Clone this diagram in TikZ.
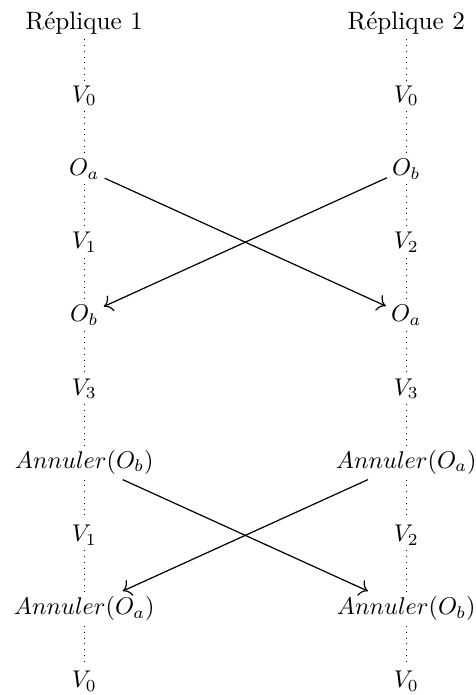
\documentclass[tikz,border=0pt]{standalone}
\usetikzlibrary{arrows.meta}
\begin{document}
\begin{tikzpicture}[x=0.4132pt,y=-0.4132pt,
  lab/.style={anchor=base,inner sep=2pt,font=\fontsize{10.4}{12.5}\selectfont},
  sep/.style={dotted,line width=0.4pt},
  msg/.style={-{To[scale=1.25]},line width=0.5pt}]
\useasboundingbox (0,0) rectangle (476,695);
% left column
\node[lab] (l0) at (84.3,29)    {Réplique 1};
\node[lab] (l1) at (84.3,102.2) {$V_0$};
\node[lab] (l2) at (84.3,175.4) {$O_a$};
\node[lab] (l3) at (84.3,248.6) {$V_1$};
\node[lab] (l4) at (84.3,321.8) {$O_b$};
\node[lab] (l5) at (84.3,395)   {$V_3$};
\node[lab] (l6) at (84.3,468.2) {$Annuler(O_b)$};
\node[lab] (l7) at (84.3,541.4) {$V_1$};
\node[lab] (l8) at (84.3,614.6) {$Annuler(O_a)$};
\node[lab] (l9) at (84.3,687.8) {$V_0$};
% right column
\node[lab] (r0) at (406.3,29)    {Réplique 2};
\node[lab] (r1) at (406.3,102.2) {$V_0$};
\node[lab] (r2) at (406.3,175.4) {$O_b$};
\node[lab] (r3) at (406.3,248.6) {$V_2$};
\node[lab] (r4) at (406.3,321.8) {$O_a$};
\node[lab] (r5) at (406.3,395)   {$V_3$};
\node[lab] (r6) at (406.3,468.2) {$Annuler(O_a)$};
\node[lab] (r7) at (406.3,541.4) {$V_2$};
\node[lab] (r8) at (406.3,614.6) {$Annuler(O_b)$};
\node[lab] (r9) at (406.3,687.8) {$V_0$};
% dotted timelines
\foreach \a/\b in {0/1,1/2,2/3,3/4,4/5,5/6,6/7,7/8,8/9}{
  \draw[sep] (l\a.south) -- (l\b.north);
  \draw[sep] (r\a.south) -- (r\b.north);
}
% messages
\draw[msg] (l2) -- (r4);
\draw[msg] (r2) -- (l4);
\draw[msg] (l6) -- (r8);
\draw[msg] (r6) -- (l8);
\end{tikzpicture}
\end{document}
